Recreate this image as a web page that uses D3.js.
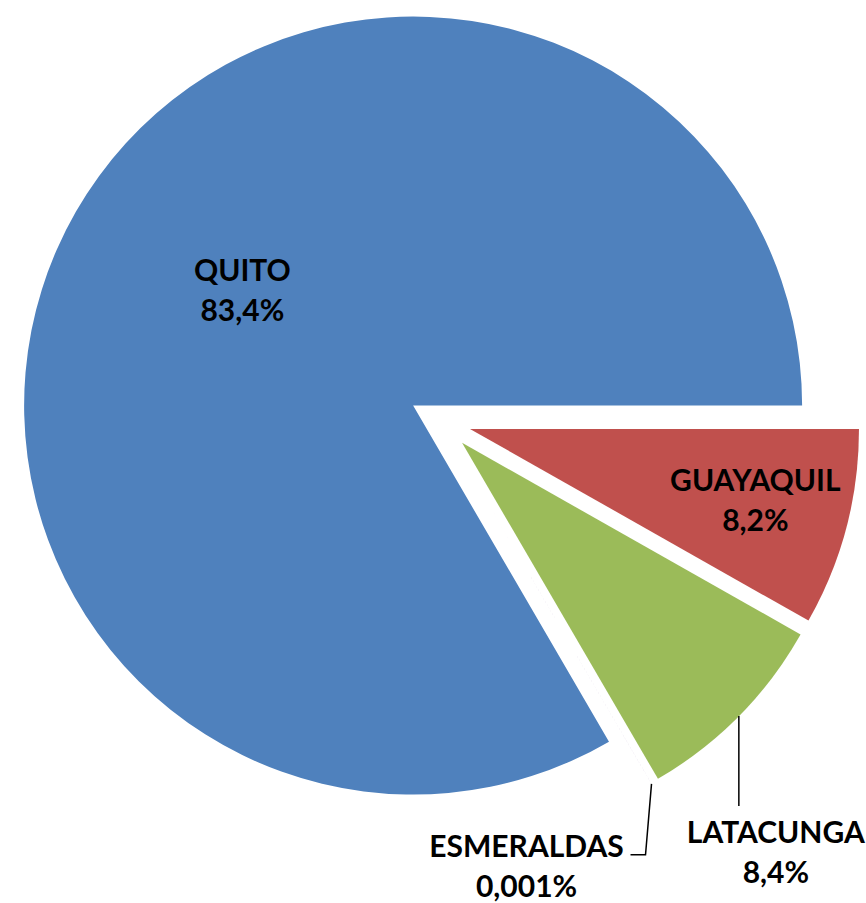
<!DOCTYPE html>
<html>
<head>
<meta charset="utf-8">
<script src="https://cdn.jsdelivr.net/npm/d3@7.9.0/dist/d3.min.js"></script>
<style>
  html, body { margin: 0; padding: 0; background: #fff; }
  svg { display: block; }
  .lbl { font-family: Lato, "Open Sans", sans-serif; font-weight: 700; font-size: 30px; fill: #000; }
</style>
</head>
<body>
<svg id="chart" width="866" height="903"></svg>
<script>
// slice order follows the chart, clockwise from 3 o'clock
const cities = ['GUAYAQUIL', 'LATACUNGA', 'ESMERALDAS', 'QUITO'];
const shares = [8.2, 8.4, 0.001, 83.4];
const shareLabels = ['8,2%', '8,4%', '0,001%', '83,4%'];
const colors = ['#C0504D', '#9BBB59', '#8064A2', '#4F81BD'];

const cx = 440, cy = 421;
const radius = 389;
const explode = 31;
const lineGap = 40;

const svg = d3.select('#chart');

const pie = d3.pie()
  .value(d => d.value)
  .sort(null)
  .startAngle(Math.PI / 2)
  .endAngle(Math.PI / 2 + 2 * Math.PI);

const arc = d3.arc().innerRadius(0).outerRadius(radius);

const data = cities.map((c, i) => ({ city: c, value: shares[i], label: shareLabels[i], color: colors[i] }));
const arcs = pie(data);

// unit vector at the slice bisector (d3 angles: 0 = 12 o'clock, clockwise)
function dir(d) {
  const a = (d.startAngle + d.endAngle) / 2;
  return [Math.sin(a), -Math.cos(a)];
}

function twoLines(sel, d, x, y, anchor) {
  const t = sel.append('text')
    .attr('class', 'lbl')
    .attr('text-anchor', anchor || 'middle')
    .attr('transform', `translate(${x},${y})`);
  t.append('tspan').attr('x', 0).attr('y', 0).text(d.data.city);
  t.append('tspan').attr('x', 0).attr('y', lineGap).text(d.data.label);
  return t;
}

const g = svg.append('g').attr('transform', `translate(${cx},${cy})`);

const slices = g.selectAll('g.slice')
  .data(arcs)
  .join('g')
  .attr('class', 'slice')
  .attr('transform', d => {
    const [ux, uy] = dir(d);
    return `translate(${ux * explode},${uy * explode})`;
  });

slices.append('path')
  .attr('d', arc)
  .attr('fill', d => d.data.color)
  .attr('stroke', 'none');

// labels inside the slice: fraction of radius along bisector, then a nudge
const inside = {
  QUITO: { r: 0.53, dx: 8, dy: -22 },
  GUAYAQUIL: { r: 0.74, dx: 7, dy: -11 }
};

slices.filter(d => inside[d.data.city] !== undefined)
  .each(function(d) {
    const [ux, uy] = dir(d);
    const p = inside[d.data.city];
    const r = radius * p.r;
    twoLines(d3.select(this), d, ux * r + p.dx, uy * r + p.dy);
  });

// outside labels with leader lines
slices.filter(d => d.data.city === 'LATACUNGA')
  .each(function(d) {
    const [ux, uy] = dir(d);
    const x0 = ux * radius, y0 = uy * radius;
    const sel = d3.select(this);
    sel.append('path')
      .attr('d', d3.line()([[x0, y0], [x0, y0 + 90]]))
      .attr('fill', 'none')
      .attr('stroke', '#000')
      .attr('stroke-width', 1.5);
    twoLines(sel, d, x0 + 37, y0 + 127);
  });

slices.filter(d => d.data.city === 'ESMERALDAS')
  .each(function(d) {
    const [ux, uy] = dir(d);
    const x0 = ux * radius, y0 = uy * radius;
    const sel = d3.select(this);
    sel.append('path')
      .attr('d', d3.line()([[x0, y0], [x0 - 6, y0 + 71], [x0 - 21, y0 + 71]]))
      .attr('fill', 'none')
      .attr('stroke', '#000')
      .attr('stroke-width', 1.5);
    twoLines(sel, d, x0 - 125, y0 + 73);
  });
</script>
</body>
</html>
